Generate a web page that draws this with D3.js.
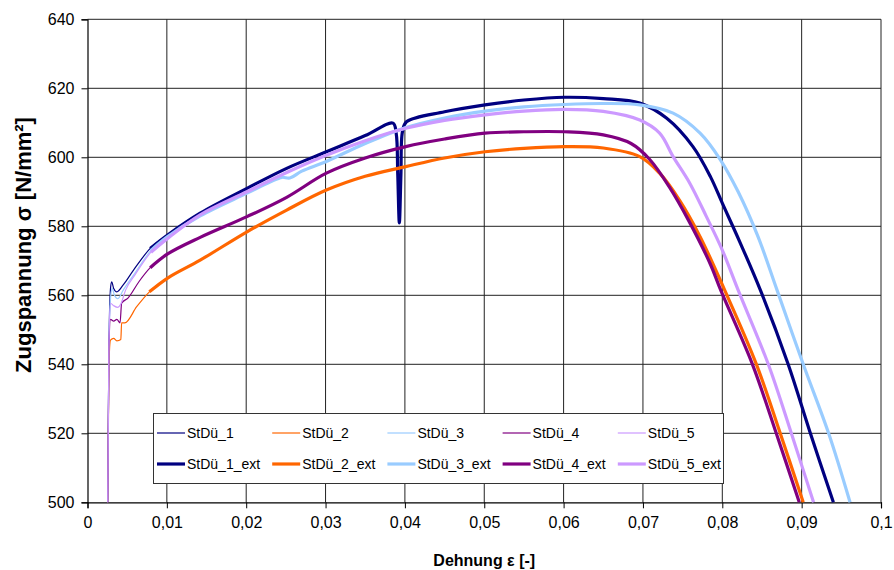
<!DOCTYPE html>
<html>
<head>
<meta charset="utf-8">
<script src="https://cdn.jsdelivr.net/npm/d3@7"></script>
<style>
  html, body { margin: 0; padding: 0; background: #fff; }
  svg { display: block; font-family: "Liberation Sans", Arial, sans-serif; }
</style>
</head>
<body>
<svg id="chart" width="894" height="570"></svg>
<script>
// ---------- data ----------
const xTicks = [0, 0.01, 0.02, 0.03, 0.04, 0.05, 0.06, 0.07, 0.08, 0.09, 0.1];
const xTickLabels = ["0", "0,01", "0,02", "0,03", "0,04", "0,05", "0,06", "0,07", "0,08", "0,09", "0,1"];
const yTicks = [500, 520, 540, 560, 580, 600, 620, 640];
const yTickLabels = ["500", "520", "540", "560", "580", "600", "620", "640"];

const seriesNames = ["StDü_1", "StDü_2", "StDü_3", "StDü_4", "StDü_5",
                     "StDü_1_ext", "StDü_2_ext", "StDü_3_ext", "StDü_4_ext", "StDü_5_ext"];
const seriesColors = ["#000080", "#FF6600", "#99CCFF", "#800080", "#CC99FF"];

// [strain, stress]
const stdue1 = [[0.00255,500],[0.0027,545],[0.0029,562],[0.00305,563.9],[0.0033,562],[0.0037,561],[0.0045,563],[0.0058,567.3],[0.0079,573.6],[0.0101,577.5]];
const stdue2 = [[0.00255,500],[0.0027,540],[0.0029,547],[0.0033,547.5],[0.0037,546.8],[0.0042,547.2],[0.0043,552],[0.0047,552],[0.0062,556.7],[0.0078,561],[0.0101,565]];
const stdue3 = [[0.00255,500],[0.0027,545],[0.0029,559],[0.0031,562],[0.0034,560],[0.0038,559],[0.0045,561.5],[0.006,566.5],[0.008,573],[0.0101,577]];
const stdue4 = [[0.00255,500],[0.0027,545],[0.0029,553],[0.0033,552.5],[0.0037,553],[0.0041,552],[0.0043,557.7],[0.0051,559.2],[0.0065,564],[0.0079,568],[0.0101,572]];
const stdue5 = [[0.00255,500],[0.0027,545],[0.0029,557.7],[0.0033,557],[0.0038,556.5],[0.0042,557.5],[0.0048,561.5],[0.006,566],[0.008,572.5],[0.0101,576.5]];

const stdue1Ext = [[0.0079,573.6],[0.0101,577.5],[0.0142,583.8],[0.0201,591],[0.0251,596.8],[0.0301,601.6],[0.035,606.3],[0.0385,609.9],[0.0389,607],[0.0391,595],[0.0393,581],[0.0395,595],[0.0397,607.5],[0.0402,610.3],[0.045,613.2],[0.0501,615.2],[0.055,616.6],[0.0601,617.4],[0.065,617],[0.0696,615.7],[0.073,611.3],[0.0763,603.1],[0.0785,594.4],[0.08,586.7],[0.0822,575.5],[0.0848,561.5],[0.0883,540],[0.0911,520],[0.094,500]];
const stdue2Ext = [[0.0078,561],[0.0101,565],[0.0142,570.2],[0.0201,578.4],[0.0251,584.7],[0.0301,590.5],[0.035,594.5],[0.0401,597.3],[0.045,599.8],[0.0501,601.6],[0.055,602.6],[0.0601,603.1],[0.065,602.7],[0.0696,600.2],[0.0721,595.4],[0.0746,587.6],[0.0772,577],[0.0803,561.5],[0.0843,540],[0.0873,520],[0.0902,500]];
const stdue3Ext = [[0.008,573],[0.0101,577],[0.0142,583],[0.0201,589.6],[0.023,592.8],[0.0245,594.2],[0.0255,594],[0.027,596],[0.0301,598.8],[0.035,604],[0.0401,608.6],[0.045,611.4],[0.0501,613.4],[0.055,614.6],[0.0601,615.3],[0.065,615.6],[0.0696,615.2],[0.0738,612.8],[0.0772,607],[0.0797,599.5],[0.082,590],[0.0845,577],[0.0869,561.5],[0.0902,540],[0.0934,520],[0.0961,500]];
const stdue4Ext = [[0.0079,568],[0.0101,572],[0.0142,576.8],[0.0201,582.8],[0.0251,588.4],[0.0301,595.4],[0.035,599.8],[0.0401,603.1],[0.045,605.3],[0.0501,607],[0.055,607.4],[0.0601,607.4],[0.065,606.5],[0.0685,604],[0.0708,599.5],[0.0733,591.5],[0.0758,581.5],[0.0785,569],[0.0798,561.5],[0.0838,540],[0.0868,520],[0.0897,500]];
const stdue5Ext = [[0.008,572.5],[0.0101,576.5],[0.0142,583.3],[0.0201,590],[0.0251,595.6],[0.0301,600.6],[0.035,604.8],[0.0401,608.4],[0.045,610.7],[0.0501,612.3],[0.055,613.4],[0.0601,613.9],[0.065,613.3],[0.0696,610.8],[0.0721,607],[0.0738,600.2],[0.0759,592.5],[0.078,582.8],[0.08,573.1],[0.082,561.5],[0.0858,540],[0.0887,520],[0.0915,500]];

const thinSeries = [stdue1, stdue2, stdue3, stdue4, stdue5];
const extSeries = [stdue1Ext, stdue2Ext, stdue3Ext, stdue4Ext, stdue5Ext];

// ---------- layout ----------
const svg = d3.select("#chart");
const pLeft = 87.5, pRight = 881, pTop = 19.3, pBottom = 502.3;

const x = d3.scaleLinear().domain([0, 0.1]).range([pLeft, pRight]);
const y = d3.scaleLinear().domain([500, 640]).range([pBottom, pTop]);

// plot background
svg.append("rect").attr("x", pLeft).attr("y", pTop).attr("width", pRight - pLeft).attr("height", pBottom - pTop).attr("fill", "#fff");

// grid
const grid = svg.append("g").attr("stroke", "#222").attr("stroke-width", 1);
grid.selectAll("line.v").data(xTicks.slice(1)).join("line")
  .attr("x1", d => x(d)).attr("x2", d => x(d)).attr("y1", pTop).attr("y2", pBottom);
grid.selectAll("line.h").data(yTicks.slice(1)).join("line")
  .attr("x1", pLeft).attr("x2", pRight).attr("y1", d => y(d)).attr("y2", d => y(d));

// axes
const xAxis = d3.axisBottom(x).tickValues(xTicks).tickSize(6).tickPadding(8)
  .tickFormat((d, i) => xTickLabels[i]);
const yAxis = d3.axisLeft(y).tickValues(yTicks).tickSize(6).tickPadding(7)
  .tickFormat((d, i) => yTickLabels[i]);

const gx = svg.append("g").attr("transform", `translate(0,${pBottom})`).call(xAxis);
const gy = svg.append("g").attr("transform", `translate(${pLeft},0)`).call(yAxis);
[gx, gy].forEach(g => {
  g.selectAll("path.domain").attr("stroke", "#000").attr("stroke-width", 1.2);
  g.selectAll(".tick line").attr("stroke", "#000");
  g.selectAll(".tick text").attr("fill", "#000").style("font-size", "16px")
    .style("font-family", "'Liberation Sans', Arial, sans-serif");
});

// lines
const thinLine = d3.line().x(d => x(d[0])).y(d => y(d[1])).curve(d3.curveMonotoneX);
const extLine = d3.line().x(d => x(d[0])).y(d => y(d[1])).curve(d3.curveCatmullRom.alpha(0.5));
const plot = svg.append("g");
thinSeries.forEach((s, i) => {
  plot.append("path").datum(s).attr("d", thinLine).attr("fill", "none")
    .attr("stroke", seriesColors[i]).attr("stroke-width", 1.2);
});
extSeries.forEach((s, i) => {
  plot.append("path").datum(s).attr("d", extLine).attr("fill", "none")
    .attr("stroke", seriesColors[i]).attr("stroke-width", 3.2).attr("stroke-linejoin", "round");
});

// axis titles
svg.append("text").attr("x", x(0.05)).attr("y", 566).attr("text-anchor", "middle")
  .style("font-size", "16px").style("font-weight", "bold").text("Dehnung ε [-]");
svg.append("text").attr("transform", `translate(31,245) rotate(-90)`)
  .attr("text-anchor", "middle").style("font-size", "22px").style("font-weight", "bold")
  .text("Zugspannung σ [N/mm²]");

// legend
const lg = svg.append("g");
lg.append("rect").attr("x", 153.5).attr("y", 413.5).attr("width", 570).attr("height", 70)
  .attr("fill", "#fff").attr("stroke", "#333").attr("stroke-width", 1);
seriesNames.forEach((name, i) => {
  const col = i % 5, row = Math.floor(i / 5);
  const lx = 157 + col * 115.2, ly = 433 + row * 31;
  lg.append("line").attr("x1", lx).attr("x2", lx + 28).attr("y1", ly).attr("y2", ly)
    .attr("stroke", seriesColors[col]).attr("stroke-width", row === 0 ? 1.2 : 3.2);
  lg.append("text").attr("x", lx + 30).attr("y", ly + 5).style("font-size", "14px").text(name);
});
</script>
</body>
</html>
